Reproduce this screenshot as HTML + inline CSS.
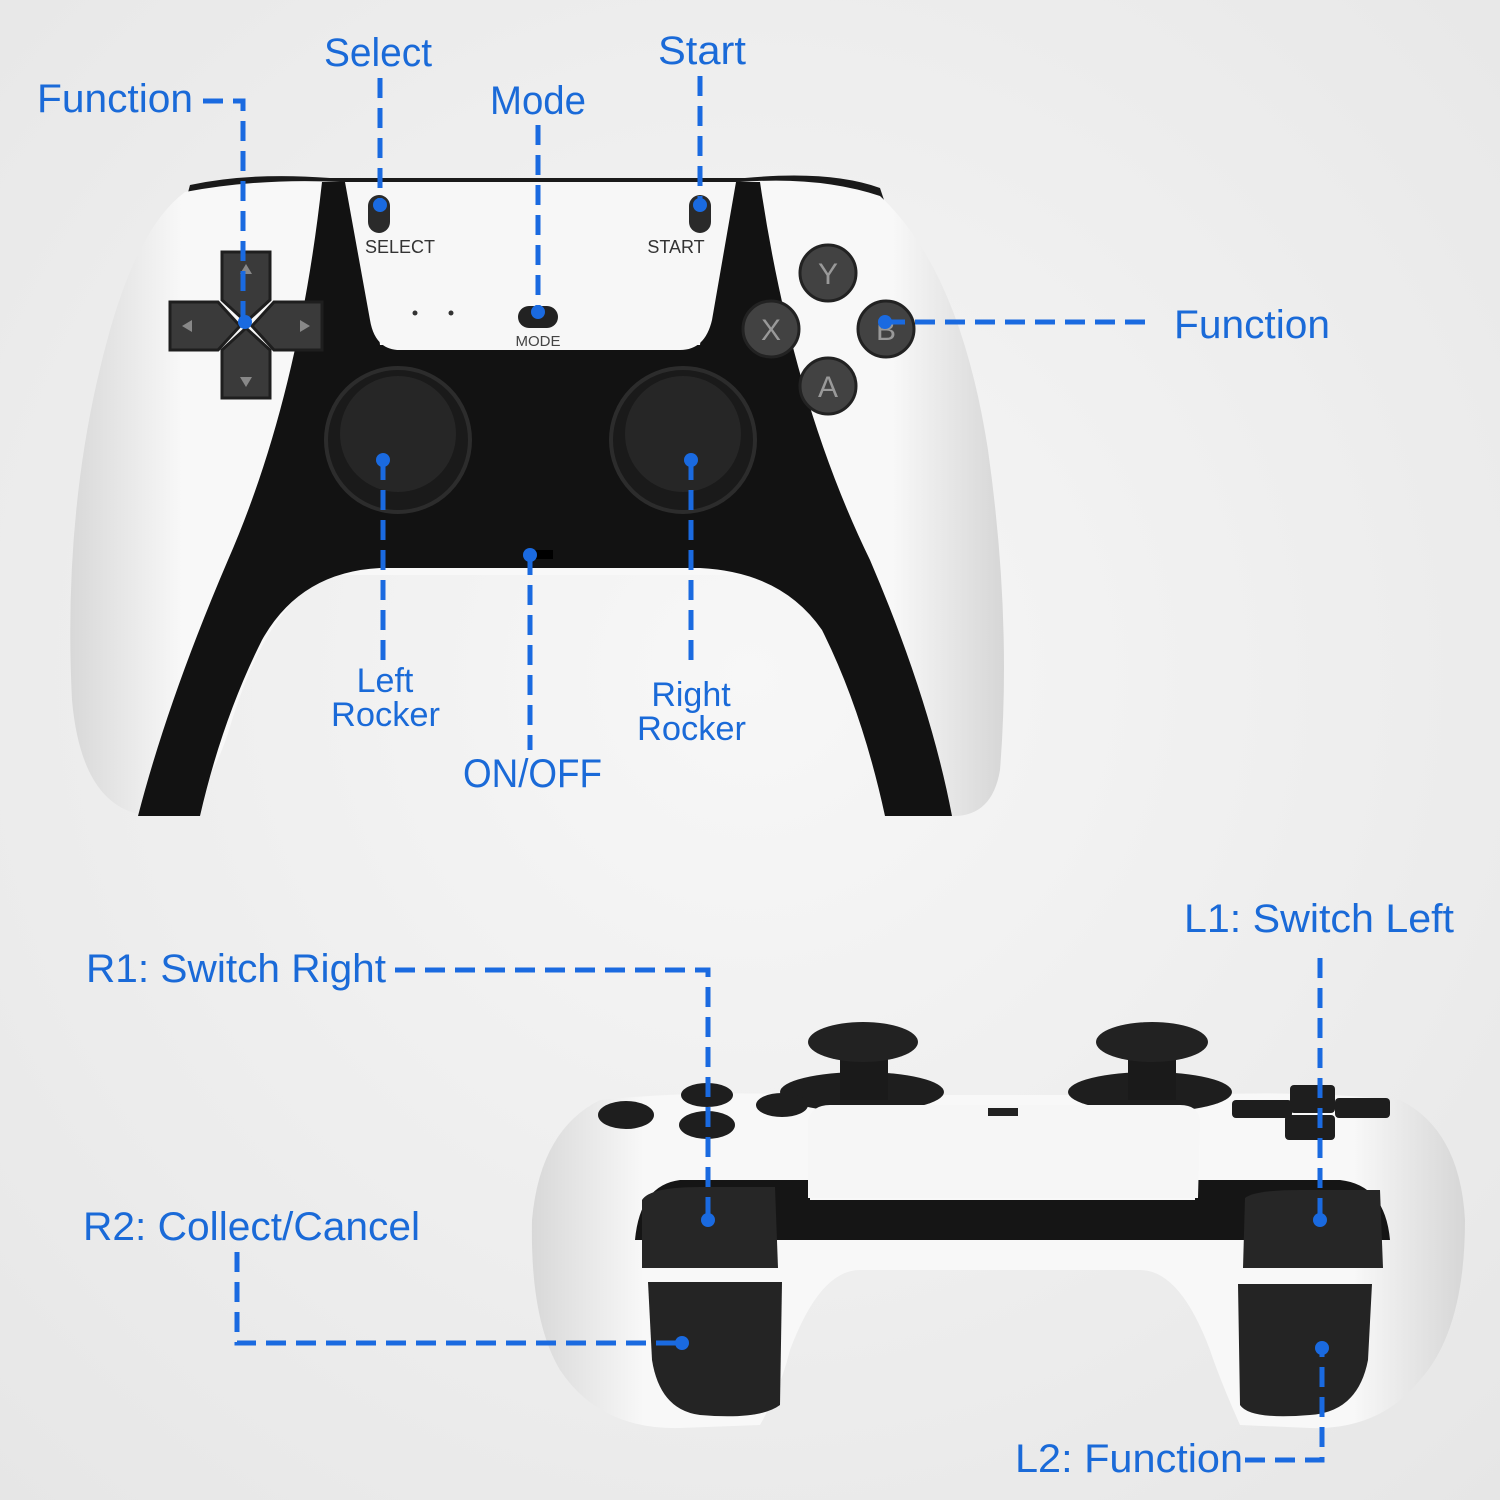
<!DOCTYPE html>
<html><head><meta charset="utf-8"><style>
html,body{margin:0;padding:0;background:#efefef;}
svg{display:block}
text{font-family:"Liberation Sans","DejaVu Sans",sans-serif;fill:#1a6ad8;}
</style></head><body>
<svg width="1500" height="1500" viewBox="0 0 1500 1500" xmlns="http://www.w3.org/2000/svg">
<defs>
<radialGradient id="bg" cx="50%" cy="45%" r="75%"><stop offset="0" stop-color="#f7f7f7"/><stop offset="1" stop-color="#e6e6e6"/></radialGradient>
<linearGradient id="wh" x1="0" y1="0" x2="1" y2="0"><stop offset="0" stop-color="#d8d8d8"/><stop offset="0.12" stop-color="#f8f8f8"/><stop offset="0.88" stop-color="#f8f8f8"/><stop offset="1" stop-color="#d6d6d6"/></linearGradient>
</defs>
<rect width="1500" height="1500" fill="url(#bg)"/>

<!-- TOP CONTROLLER -->
<path d="M190 185 Q250 172 330 178 L745 178 Q830 170 880 188 L884 200 L186 200 Z" fill="#1a1a1a"/>
<path d="M185 192 Q260 178 340 182 L740 182 Q820 176 880 196 Q960 270 988 450 Q1012 620 1000 770 Q992 818 950 816 Q882 812 862 720 Q822 600 760 575 L330 575 Q270 600 232 720 Q205 815 152 816 Q82 812 72 700 Q62 500 110 330 Q140 225 185 192 Z" fill="url(#wh)"/>
<path d="M322 182 L362 182 L380 345 L700 345 L720 182 L760 182 Q792 400 870 560 Q930 700 952 816 L885 816 Q862 710 822 630 Q782 572 700 568 L380 568 Q300 572 262 640 Q222 720 200 816 L138 816 Q168 700 228 560 Q298 400 322 182 Z" fill="#121212"/>
<path d="M345 182 L736 182 L712 320 Q705 350 680 350 L400 350 Q375 350 370 320 Z" fill="#f7f7f7"/>
<rect x="368" y="195" width="22" height="38" rx="11" fill="#2a2a2a"/>
<rect x="689" y="195" width="22" height="38" rx="11" fill="#2a2a2a"/>
<rect x="518" y="306" width="40" height="22" rx="11" fill="#222"/>
<text x="400" y="253" font-size="18" text-anchor="middle" style="fill:#333">SELECT</text>
<text x="676" y="253" font-size="18" text-anchor="middle" style="fill:#333">START</text>
<text x="538" y="346" font-size="15" text-anchor="middle" style="fill:#444">MODE</text>
<circle cx="415" cy="313" r="2.5" fill="#333"/><circle cx="451" cy="313" r="2.5" fill="#333"/>
<g fill="#3a3a3a" stroke="#1e1e1e" stroke-width="3">
<path d="M222 252 h48 v48 l-24 22 l-24 -22 z"/>
<path d="M222 398 h48 v-48 l-24 -22 l-24 22 z"/>
<path d="M170 302 v48 h48 l22 -24 l-22 -24 z"/>
<path d="M322 302 v48 h-48 l-22 -24 l22 -24 z"/>
</g>
<g fill="#888"><path d="M246 264 l-6 10 h12z"/><path d="M246 387 l-6 -10 h12z"/><path d="M182 326 l10 -6 v12z"/><path d="M310 326 l-10 -6 v12z"/></g>
<g fill="#424242" stroke="#222" stroke-width="3">
<circle cx="828" cy="273" r="28"/><circle cx="771" cy="329" r="28"/><circle cx="886" cy="329" r="28"/><circle cx="828" cy="386" r="28"/>
</g>
<g font-size="30" text-anchor="middle"><text x="828" y="284" style="fill:#999">Y</text><text x="771" y="340" style="fill:#999">X</text><text x="886" y="340" style="fill:#999">B</text><text x="828" y="397" style="fill:#999">A</text></g>
<circle cx="398" cy="440" r="72" fill="#1a1a1a" stroke="#2c2c2c" stroke-width="4"/>
<circle cx="398" cy="434" r="58" fill="#262626"/>
<circle cx="683" cy="440" r="72" fill="#1a1a1a" stroke="#2c2c2c" stroke-width="4"/>
<circle cx="683" cy="434" r="58" fill="#262626"/>
<rect x="528" y="550" width="25" height="9" fill="#000"/>

<!-- BOTTOM CONTROLLER -->
<path d="M600 1100 Q700 1090 800 1095 L1200 1095 Q1300 1090 1400 1100 Q1460 1130 1465 1220 Q1465 1330 1420 1380 Q1380 1430 1310 1428 L1240 1425 Q1220 1380 1210 1350 Q1180 1270 1140 1270 L860 1270 Q820 1270 790 1350 Q780 1390 760 1425 L680 1428 Q600 1430 560 1370 Q530 1320 532 1220 Q540 1130 600 1100 Z" fill="url(#wh)"/>
<ellipse cx="862" cy="1092" rx="82" ry="20" fill="#1e1e1e"/>
<ellipse cx="1150" cy="1092" rx="82" ry="20" fill="#1e1e1e"/>
<rect x="840" y="1055" width="48" height="45" fill="#1a1a1a"/>
<rect x="1128" y="1055" width="48" height="45" fill="#1a1a1a"/>
<ellipse cx="863" cy="1042" rx="55" ry="20" fill="#222"/>
<ellipse cx="1152" cy="1042" rx="56" ry="20" fill="#222"/>
<g fill="#1e1e1e"><ellipse cx="626" cy="1115" rx="28" ry="14"/><ellipse cx="707" cy="1095" rx="26" ry="12"/><ellipse cx="707" cy="1125" rx="28" ry="14"/><ellipse cx="782" cy="1105" rx="26" ry="12"/>
<rect x="1232" y="1100" width="60" height="18" rx="4"/><rect x="1290" y="1085" width="45" height="28" rx="4"/><rect x="1285" y="1115" width="50" height="25" rx="4"/><rect x="1335" y="1098" width="55" height="20" rx="4"/></g>
<path d="M635 1240 Q640 1185 680 1180 L810 1180 L810 1200 L1195 1200 L1195 1180 L1340 1180 Q1385 1185 1390 1240 Z" fill="#151515"/>
<path d="M808 1120 Q812 1105 830 1105 L1180 1105 Q1198 1105 1200 1120 L1198 1198 L808 1198 Z" fill="#f6f6f6"/>
<rect x="988" y="1108" width="30" height="8" fill="#222"/>
<path d="M642 1200 Q650 1187 700 1187 L775 1187 L778 1268 L642 1268 Z" fill="#262626"/>
<path d="M648 1282 L782 1282 L780 1405 Q760 1420 700 1415 Q660 1410 652 1360 Z" fill="#242424"/>
<path d="M1245 1198 Q1255 1190 1300 1190 L1380 1190 L1383 1268 L1243 1268 Z" fill="#262626"/>
<path d="M1238 1284 L1372 1284 L1368 1360 Q1358 1412 1310 1415 Q1250 1420 1240 1405 Z" fill="#242424"/>

<!-- CONNECTORS -->
<g fill="none" stroke="#1a6ae0" stroke-width="5" stroke-dasharray="20 10">
<path d="M203 101 H243 V322"/>
<path d="M380 78 V205"/>
<path d="M538 125 V312"/>
<path d="M700 76 V205"/>
<path d="M885 322 H1155"/>
<path d="M383 460 V660"/>
<path d="M691 460 V660"/>
<path d="M530 555 V750"/>
<path d="M395 970 H708 V1220"/>
<path d="M1320 958 V1220"/>
<path d="M237 1252 V1343 H682"/>
<path d="M1245 1460 H1322 V1348"/>
</g>
<g fill="#1a6ae0">
<circle cx="245" cy="322" r="7"/><circle cx="380" cy="205" r="7"/><circle cx="538" cy="312" r="7"/><circle cx="700" cy="205" r="7"/><circle cx="885" cy="322" r="7"/><circle cx="383" cy="460" r="7"/><circle cx="691" cy="460" r="7"/><circle cx="530" cy="555" r="7"/><circle cx="708" cy="1220" r="7"/><circle cx="1320" cy="1220" r="7"/><circle cx="682" cy="1343" r="7"/><circle cx="1322" cy="1348" r="7"/>
</g>

<!-- LABELS -->
<g font-size="40">
<text x="37" y="112" textLength="156" lengthAdjust="spacingAndGlyphs">Function</text>
<text x="324" y="66" textLength="108" lengthAdjust="spacingAndGlyphs">Select</text>
<text x="490" y="114" textLength="96" lengthAdjust="spacingAndGlyphs">Mode</text>
<text x="658" y="64" textLength="88" lengthAdjust="spacingAndGlyphs">Start</text>
<text x="1174" y="338" textLength="156" lengthAdjust="spacingAndGlyphs">Function</text>
<text x="385" y="692" text-anchor="middle" font-size="34">Left</text>
<text x="331" y="726" font-size="34" textLength="109" lengthAdjust="spacingAndGlyphs">Rocker</text>
<text x="691" y="706" text-anchor="middle" font-size="34">Right</text>
<text x="637" y="740" font-size="34" textLength="109" lengthAdjust="spacingAndGlyphs">Rocker</text>
<text x="463" y="787" textLength="139" lengthAdjust="spacingAndGlyphs">ON/OFF</text>
<text x="86" y="982" textLength="300" lengthAdjust="spacingAndGlyphs">R1: Switch Right</text>
<text x="1184" y="932" textLength="270" lengthAdjust="spacingAndGlyphs">L1: Switch Left</text>
<text x="83" y="1240" textLength="337" lengthAdjust="spacingAndGlyphs">R2: Collect/Cancel</text>
<text x="1015" y="1472" textLength="228" lengthAdjust="spacingAndGlyphs">L2: Function</text>
</g>
</svg>
</body></html>
